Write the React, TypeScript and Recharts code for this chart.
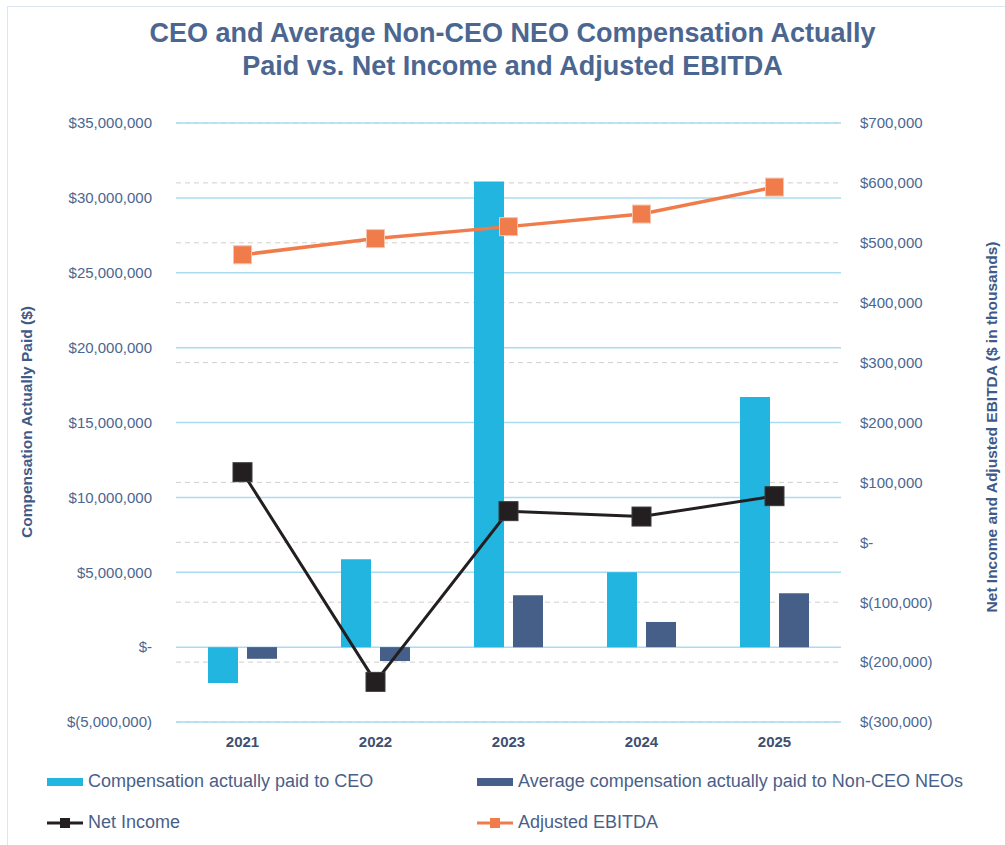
import {
  Bar,
  CartesianGrid,
  ComposedChart,
  Line,
  XAxis,
  YAxis
} from 'recharts';

const YEARS = ['2021', '2022', '2023', '2024', '2025'];
const CEO_CAP = [-2400000, 5870000, 31100000, 5000000, 16700000];
const NEO_CAP = [-780000, -930000, 3470000, 1680000, 3600000];
const NET_INCOME = [117000, -233000, 52000, 43000, 77000];
const ADJ_EBITDA = [480000, 507000, 527000, 548000, 593000];

const LEFT_TICKS = [-5000000, 0, 5000000, 10000000, 15000000, 20000000, 25000000, 30000000, 35000000];
const RIGHT_TICKS = [-300000, -200000, -100000, 0, 100000, 200000, 300000, 400000, 500000, 600000, 700000];

const data = YEARS.map((year, i) => ({
  year,
  ceo: CEO_CAP[i],
  neo: NEO_CAP[i],
  netIncome: NET_INCOME[i],
  ebitda: ADJ_EBITDA[i]
}));

const CEO_COLOR = '#21b5e0';
const NEO_COLOR = '#455f88';
const NI_COLOR = '#231f20';
const EBITDA_COLOR = '#f07c4b';
const GRID_BLUE = '#a9dcf1';
const TEXT_BLUE = '#4b6690';
const FONT = '"Liberation Sans", Arial, sans-serif';

function money(v: number): string {
  if (v === 0) return '$-';
  const s = Math.abs(v).toLocaleString('en-US');
  return v < 0 ? `$(${s})` : `$${s}`;
}

function squareDot(size: number, fill: string, stroke: string) {
  return (props: any) => {
    const { cx, cy, index } = props;
    if (cx == null || cy == null) return <g key={index} />;
    return (
      <rect
        key={index}
        x={cx - size / 2}
        y={cy - size / 2}
        width={size}
        height={size}
        fill={fill}
        stroke={stroke}
        strokeWidth={1}
      />
    );
  };
}

function LegendItem({ kind, color, label, left, top }: any) {
  return (
    <div
      style={{
        position: 'absolute',
        left,
        top,
        display: 'flex',
        alignItems: 'center',
        fontFamily: FONT,
        fontSize: 18,
        color: '#4a5f88',
        whiteSpace: 'nowrap'
      }}
    >
      <svg width={36} height={14} style={{ marginRight: 5 }}>
        {kind === 'bar' ? (
          <rect x={0} y={3} width={36} height={8} fill={color} />
        ) : (
          <>
            <line x1={0} y1={7} x2={36} y2={7} stroke={color} strokeWidth={3} />
            <rect x={13} y={2} width={10} height={10} fill={color} />
          </>
        )}
      </svg>
      <span>{label}</span>
    </div>
  );
}

export default function App() {
  return (
    <div
      style={{
        position: 'absolute',
        left: 0,
        top: 0,
        width: 1005,
        height: 845,
        background: '#fff',
        overflow: 'hidden'
      }}
    >
      <div
        style={{
          position: 'absolute',
          left: 7,
          top: 6,
          width: 1010,
          height: 850,
          borderLeft: '1px solid #dce6f1',
          borderTop: '1px solid #dce6f1'
        }}
      />
      <div
        style={{
          position: 'absolute',
          left: 0,
          top: 17,
          width: 1025,
          textAlign: 'center',
          fontFamily: FONT,
          fontWeight: 'bold',
          fontSize: 27,
          lineHeight: '33px',
          color: TEXT_BLUE
        }}
      >
        CEO and Average Non-CEO NEO Compensation Actually
        <br />
        Paid vs. Net Income and Adjusted EBITDA
      </div>

      <ComposedChart
        width={1005}
        height={845}
        data={data}
        margin={{ top: 123, right: 40, bottom: 93, left: 50 }}
        barSize={30}
        barGap={9}
        style={{ position: 'absolute', left: 0, top: 0 }}
      >
        <CartesianGrid
          yAxisId='right'
          vertical={false}
          stroke='#cfcfcf'
          strokeDasharray='5 4'
        />
        <CartesianGrid yAxisId='left' vertical={false} stroke={GRID_BLUE} strokeWidth={1.5} />
        <XAxis
          xAxisId='edge'
          type='number'
          domain={[0, 5]}
          ticks={[0, 1, 2, 3, 4, 5]}
          allowDataOverflow
          tick={false}
          tickLine={{ stroke: GRID_BLUE, strokeWidth: 1.5 }}
          tickSize={5}
          axisLine={{ stroke: GRID_BLUE, strokeWidth: 1.5 }}
          height={0}
        />
        <XAxis
          dataKey='year'
          axisLine={false}
          tickLine={false}
          tickSize={0}
          tickMargin={14}
          height={30}
          tick={{ fontSize: 15, fontWeight: 'bold', fill: '#3e506f', fontFamily: FONT }}
        />
        <YAxis
          yAxisId='left'
          domain={[-5000000, 35000000]}
          ticks={LEFT_TICKS}
          interval={0}
          tickFormatter={money}
          axisLine={false}
          tickLine={false}
          tickSize={0}
          tickMargin={24}
          width={126}
          tick={{ fontSize: 15, fill: TEXT_BLUE, fontFamily: FONT }}
        />
        <YAxis
          yAxisId='right'
          orientation='right'
          domain={[-300000, 700000]}
          ticks={RIGHT_TICKS}
          interval={0}
          tickFormatter={money}
          axisLine={false}
          tickLine={false}
          tickSize={0}
          tickMargin={19}
          width={124}
          tick={{ fontSize: 15, fill: TEXT_BLUE, fontFamily: FONT, textAnchor: 'start' }}
        />
        <Bar yAxisId='left' dataKey='ceo' fill={CEO_COLOR} isAnimationActive={false} />
        <Bar yAxisId='left' dataKey='neo' fill={NEO_COLOR} isAnimationActive={false} />
        <Line
          yAxisId='right'
          dataKey='netIncome'
          stroke={NI_COLOR}
          strokeWidth={3}
          dot={squareDot(19, NI_COLOR, '#3a3a3a')}
          activeDot={false}
          isAnimationActive={false}
        />
        <Line
          yAxisId='right'
          dataKey='ebitda'
          stroke={EBITDA_COLOR}
          strokeWidth={3.5}
          dot={squareDot(18, EBITDA_COLOR, '#f6c3ab')}
          activeDot={false}
          isAnimationActive={false}
        />
      </ComposedChart>

      <div
        style={{
          position: 'absolute',
          left: 27,
          top: 422,
          transform: 'translate(-50%, -50%) rotate(-90deg)',
          fontFamily: FONT,
          fontWeight: 'bold',
          fontSize: 15.5,
          color: '#3f5a88',
          whiteSpace: 'nowrap'
        }}
      >
        Compensation Actually Paid ($)
      </div>
      <div
        style={{
          position: 'absolute',
          left: 992,
          top: 427,
          transform: 'translate(-50%, -50%) rotate(-90deg)',
          fontFamily: FONT,
          fontWeight: 'bold',
          fontSize: 15.5,
          color: '#3f5a88',
          whiteSpace: 'nowrap'
        }}
      >
        Net Income and Adjusted EBITDA ($ in thousands)
      </div>

      <LegendItem kind='bar' color={CEO_COLOR} label='Compensation actually paid to CEO' left={47} top={771} />
      <LegendItem
        kind='bar'
        color={NEO_COLOR}
        label='Average compensation actually paid to Non-CEO NEOs'
        left={477}
        top={771}
      />
      <LegendItem kind='line' color={NI_COLOR} label='Net Income' left={47} top={812} />
      <LegendItem kind='line' color={EBITDA_COLOR} label='Adjusted EBITDA' left={477} top={812} />
    </div>
  );
}
